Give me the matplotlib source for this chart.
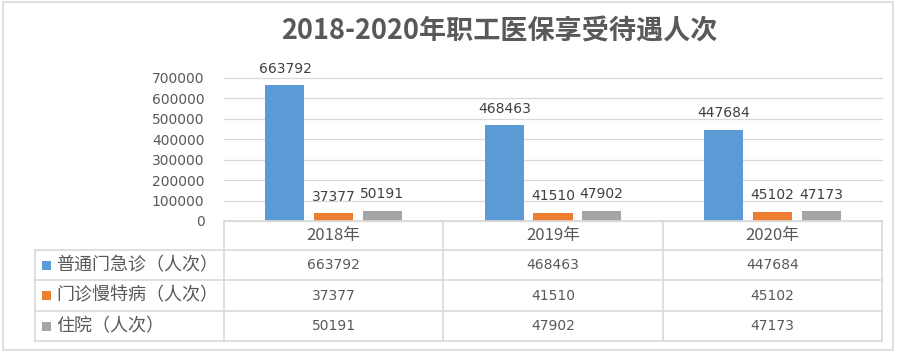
import matplotlib
matplotlib.use('Agg')
import matplotlib.pyplot as plt
from matplotlib.patches import Rectangle
from matplotlib.lines import Line2D

# ---- data ----
title = '2018-2020年职工医保享受待遇人次'
years = ['2018年', '2019年', '2020年']
series_names = ['普通门急诊（人次）', '门诊慢特病（人次）', '住院（人次）']
outpatient = [663792, 468463, 447684]
chronic = [37377, 41510, 45102]
inpatient = [50191, 47902, 47173]
yticks = [0, 100000, 200000, 300000, 400000, 500000, 600000, 700000]
colors = ['#5B9BD5', '#ED7D31', '#A5A5A5']

series = [outpatient, chronic, inpatient]

TXT = '#595959'
LBL = '#404040'
GRID = '#D9D9D9'
CJK = ['Noto Sans CJK SC', 'DejaVu Sans']
NUM = ['DejaVu Sans']

W, H = 904, 353
fig = plt.figure(figsize=(W / 100, H / 100), dpi=100)


def fx(px):
    return px / W


def fy(py):
    return 1 - py / H


ax_l, ax_r, ax_t, ax_b = 224, 882, 78, 221
ax = fig.add_axes([fx(ax_l), fy(ax_b), (ax_r - ax_l) / W, (ax_b - ax_t) / H])

n = len(years)
bw = 0.178
step = 0.222
for k, vals in enumerate(series):
    xs = [i + (k - 1) * step for i in range(n)]
    bars = ax.bar(xs, vals, width=bw, color=colors[k], zorder=3)
    for b, v in zip(bars, vals):
        ax.annotate(str(v), (b.get_x() + b.get_width() / 2, v),
                    xytext=(0, 7), textcoords='offset points',
                    ha='center', va='bottom', fontsize=10,
                    family=NUM, color=LBL, annotation_clip=False)

ax.set_xlim(-0.5, n - 0.5)
ax.set_ylim(0, 700000)
ax.set_yticks(yticks)
ax.set_yticklabels([str(t) for t in yticks], family=NUM, fontsize=10, color=TXT)
ax.set_xticks([])
ax.tick_params(axis='y', length=0, pad=14)
for s in ax.spines.values():
    s.set_visible(False)
ax.yaxis.grid(True, color=GRID, linewidth=0.9)
ax.set_axisbelow(True)
for gl in ax.get_ygridlines():
    gl.set_clip_on(False)

# ---- title ----
fig.text(fx(499), fy(31), title, ha='center', va='center', fontsize=19.5,
         fontweight='bold', family=CJK, color=TXT)

# ---- data table ----
cols = [ax_l + i * (ax_r - ax_l) / n for i in range(n + 1)]
rows = [ax_b, 250, 280, 311, 341]
tbl_left = 35


def hline(y, x0, x1):
    fig.add_artist(Line2D([fx(x0), fx(x1)], [fy(y), fy(y)], color=GRID,
                          linewidth=1.2, transform=fig.transFigure))


def vline(x, y0, y1):
    fig.add_artist(Line2D([fx(x), fx(x)], [fy(y0), fy(y1)], color=GRID,
                          linewidth=1.2, transform=fig.transFigure))


hline(rows[0], cols[0], cols[-1])
for y in rows[1:]:
    hline(y, tbl_left, cols[-1])
vline(tbl_left, rows[1], rows[-1])
for x in cols:
    vline(x, rows[0], rows[-1])

# header
for i, yr in enumerate(years):
    cx = (cols[i] + cols[i + 1]) / 2
    cy = (rows[0] + rows[1]) / 2
    fig.text(fx(cx), fy(cy), yr, ha='center', va='center', fontsize=12,
             family=CJK, color=TXT)

# body
for r, (name, vals) in enumerate(zip(series_names, series)):
    cy = (rows[r + 1] + rows[r + 2]) / 2
    sq = 9
    fig.add_artist(Rectangle((fx(42), fy(cy + sq / 2)), sq / W, sq / H,
                             facecolor=colors[r], edgecolor='none',
                             transform=fig.transFigure))
    fig.text(fx(56), fy(cy), name, ha='left', va='center', fontsize=13,
             family=CJK, color=TXT)
    for i, v in enumerate(vals):
        cx = (cols[i] + cols[i + 1]) / 2
        fig.text(fx(cx), fy(cy), str(v), ha='center', va='center',
                 fontsize=10, family=NUM, color=TXT)

# outer chart border
fig.add_artist(Rectangle((fx(3), fy(350)), (893 - 3) / W, (350 - 2) / H,
                         fill=False, edgecolor=GRID, linewidth=1.2,
                         transform=fig.transFigure))

fig.savefig('out.png', dpi=100)
